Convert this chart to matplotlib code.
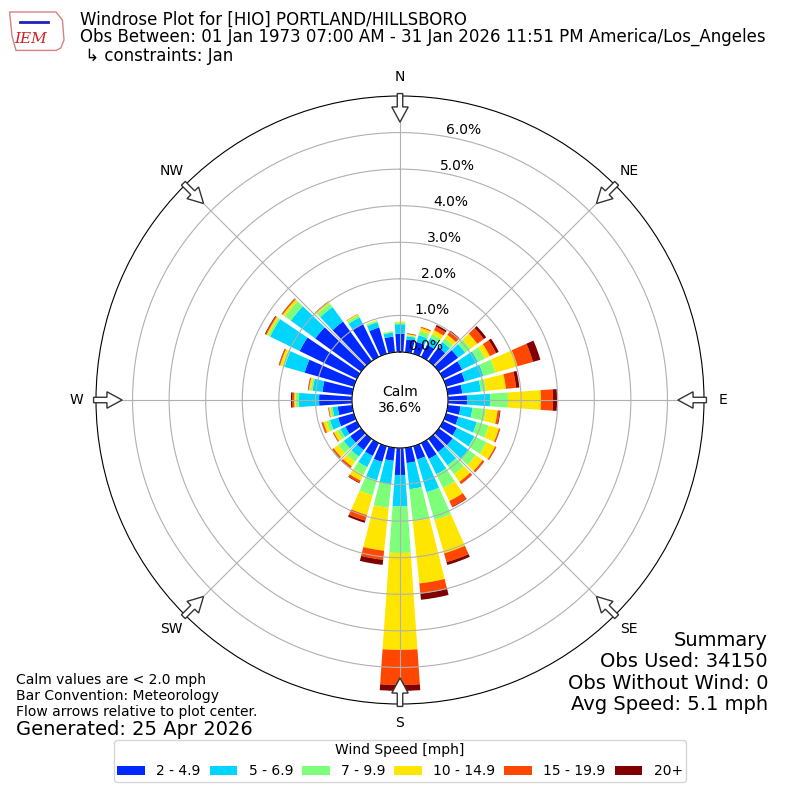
import numpy as np
import matplotlib
matplotlib.use('Agg')
import matplotlib.pyplot as plt
from matplotlib import cm
from matplotlib.patches import FancyArrow, Polygon

# ============================
# DATA (cumulative %)
# ============================

directions = np.arange(0, 360, 10)

cum_2_4 = [0.50, 0.35, 0.34, 0.37, 0.47, 0.65, 0.58, 0.53, 0.40, 0.52,
           0.35, 0.35, 0.42, 0.47, 0.45, 0.48, 0.38, 0.42, 0.74, 0.36,
           0.45, 0.39, 0.38, 0.37, 0.35, 0.45, 0.40, 0.90, 0.82, 1.40,
           1.74, 1.55, 1.34, 1.01, 0.75, 0.43]
cum_5_6 = [0.76, 0.44, 0.53, 0.58, 0.65, 0.89, 1.06, 1.06, 0.91, 1.15,
           0.68, 0.87, 0.95, 1.00, 0.90, 0.95, 1.31, 1.14, 1.60, 1.00,
           0.97, 0.73, 0.60, 0.59, 0.50, 0.68, 0.54, 1.45, 1.09, 1.97,
           2.64, 2.38, 1.83, 1.20, 0.90, 0.54]
cum_7_9 = [0.80, 0.47, 0.65, 0.69, 0.77, 1.07, 1.27, 1.40, 1.05, 1.64,
           1.05, 1.21, 1.32, 1.25, 1.20, 1.37, 2.10, 2.02, 2.87, 1.65,
           1.40, 0.97, 0.78, 0.78, 0.60, 0.78, 0.60, 1.54, 1.14, 2.03,
           2.70, 2.58, 1.95, 1.27, 0.94, 0.57]
cum_10_14 = [0.83, 0.50, 0.74, 0.81, 0.89, 1.30, 1.42, 2.03, 1.60, 2.54,
             1.37, 1.50, 1.58, 1.48, 1.45, 1.76, 3.05, 3.73, 5.52, 2.83,
             1.96, 1.14, 0.93, 0.93, 0.70, 0.87, 0.64, 1.58, 1.19, 2.10,
             2.75, 2.65, 2.00, 1.30, 0.96, 0.58]
cum_15_19 = [0.83, 0.51, 0.77, 0.92, 1.00, 1.52, 1.61, 2.47, 1.88, 2.87,
             1.43, 1.53, 1.61, 1.53, 1.52, 1.93, 3.30, 4.01, 6.48, 3.08,
             2.12, 1.20, 0.99, 0.97, 0.72, 0.91, 0.65, 1.63, 1.21, 2.13,
             2.78, 2.68, 2.01, 1.31, 0.96, 0.58]
cum_20p = [0.83, 0.52, 0.77, 0.97, 1.03, 1.60, 1.69, 2.68, 1.97, 2.98,
           1.45, 1.54, 1.62, 1.54, 1.53, 1.95, 3.38, 4.18, 6.64, 3.22,
           2.18, 1.22, 1.00, 0.98, 0.73, 0.92, 0.66, 1.67, 1.22, 2.14,
           2.80, 2.69, 2.02, 1.31, 0.96, 0.58]

speed_labels = ['2 - 4.9', '5 - 6.9', '7 - 9.9', '10 - 14.9', '15 - 19.9', '20+']
calm_pct = 36.6
rticks = [0, 1, 2, 3, 4, 5, 6]
compass = ['N', 'NE', 'E', 'SE', 'S', 'SW', 'W', 'NW']

# ============================
# FIGURE
# ============================

fig = plt.figure(figsize=(8, 8), dpi=100)
ax = fig.add_axes([0.12, 0.12, 0.76, 0.76], projection='polar')
ax.set_theta_zero_location('N')
ax.set_theta_direction(-1)

colors = cm.jet(np.linspace(0, 1, 7)[1:])
theta = np.radians(directions)
width = np.radians(8)

cums = [cum_2_4, cum_5_6, cum_7_9, cum_10_14, cum_15_19, cum_20p]
bottom = np.zeros(len(directions))
for cum, col, lab in zip(cums, colors, speed_labels):
    top = np.array(cum)
    ax.bar(theta, top - bottom, width=width, bottom=bottom,
           color=col, edgecolor='none', label=lab)
    bottom = top

ax.set_ylim(0, 7)
ax.set_rorigin(-1.3125)
ax.set_yticks(rticks)
ax.set_yticklabels(['%.1f%%' % v for v in rticks], fontsize=10)
ax.set_rlabel_position(10)
ax.set_xticks(np.radians(np.arange(0, 360, 45)))
ax.set_xticklabels(compass, fontsize=10)
ax.tick_params(axis='x', pad=3.5)
ax.grid(True, color='#b0b0b0', lw=0.8)

# calm in the middle
ax.text(0.5, 0.5, 'Calm\n%.1f%%' % calm_pct, transform=ax.transAxes,
        ha='center', va='center', fontsize=10)

# flow arrows pointing to the center
for ang in np.radians(np.arange(0, 360, 45)):
    sx = 0.5 + 0.504 * np.sin(ang)
    sy = 0.5 + 0.504 * np.cos(ang)
    ln = 0.047
    arr = FancyArrow(sx, sy, -ln * np.sin(ang), -ln * np.cos(ang),
                     width=0.009, head_width=0.027, head_length=0.025,
                     length_includes_head=True, transform=ax.transAxes,
                     facecolor='white', edgecolor='#333333', lw=1,
                     clip_on=False, zorder=5)
    ax.add_patch(arr)

# ============================
# TEXTS
# ============================

fig.text(0.1, 0.975, 'Windrose Plot for [HIO] PORTLAND/HILLSBORO', fontsize=12, va='center')
fig.text(0.1, 0.954, 'Obs Between: 01 Jan 1973 07:00 AM - 31 Jan 2026 11:51 PM America/Los_Angeles',
         fontsize=12, va='center')
fig.text(0.1, 0.930, ' \u21b3 constraints: Jan', fontsize=12, va='center')

# rough IEM logo
iowa = Polygon([[0.012, 0.985], [0.07, 0.985], [0.078, 0.975], [0.08, 0.95],
                [0.076, 0.94], [0.07, 0.937], [0.02, 0.937], [0.015, 0.955]],
               closed=True, transform=fig.transFigure, facecolor='white',
               edgecolor='#d98080', lw=1)
fig.patches.append(iowa)
fig.lines.append(plt.Line2D([0.025, 0.06], [0.972, 0.972], transform=fig.transFigure,
                            color='#2020c0', lw=2))
fig.text(0.038, 0.951, 'IEM', fontsize=11, color='#d02020', style='italic',
         family='DejaVu Serif', ha='center', va='center')

fig.text(0.02, 0.15, 'Calm values are < 2.0 mph', fontsize=10, va='center')
fig.text(0.02, 0.130, 'Bar Convention: Meteorology', fontsize=10, va='center')
fig.text(0.02, 0.110, 'Flow arrows relative to plot center.', fontsize=10, va='center')
fig.text(0.02, 0.088, 'Generated: 25 Apr 2026', fontsize=14, va='center')

fig.text(0.96, 0.2, 'Summary', fontsize=14, ha='right', va='center')
fig.text(0.96, 0.173, 'Obs Used: 34150', fontsize=14, ha='right', va='center')
fig.text(0.96, 0.146, 'Obs Without Wind: 0', fontsize=14, ha='right', va='center')
fig.text(0.96, 0.119, 'Avg Speed: 5.1 mph', fontsize=14, ha='right', va='center')

fig.legend(loc='lower center', bbox_to_anchor=(0.5, 0.014), ncol=6,
           title='Wind Speed [mph]', fontsize=10, title_fontsize=10,
           columnspacing=0.65, borderpad=0.25)

fig.savefig('out.png', dpi=100)
